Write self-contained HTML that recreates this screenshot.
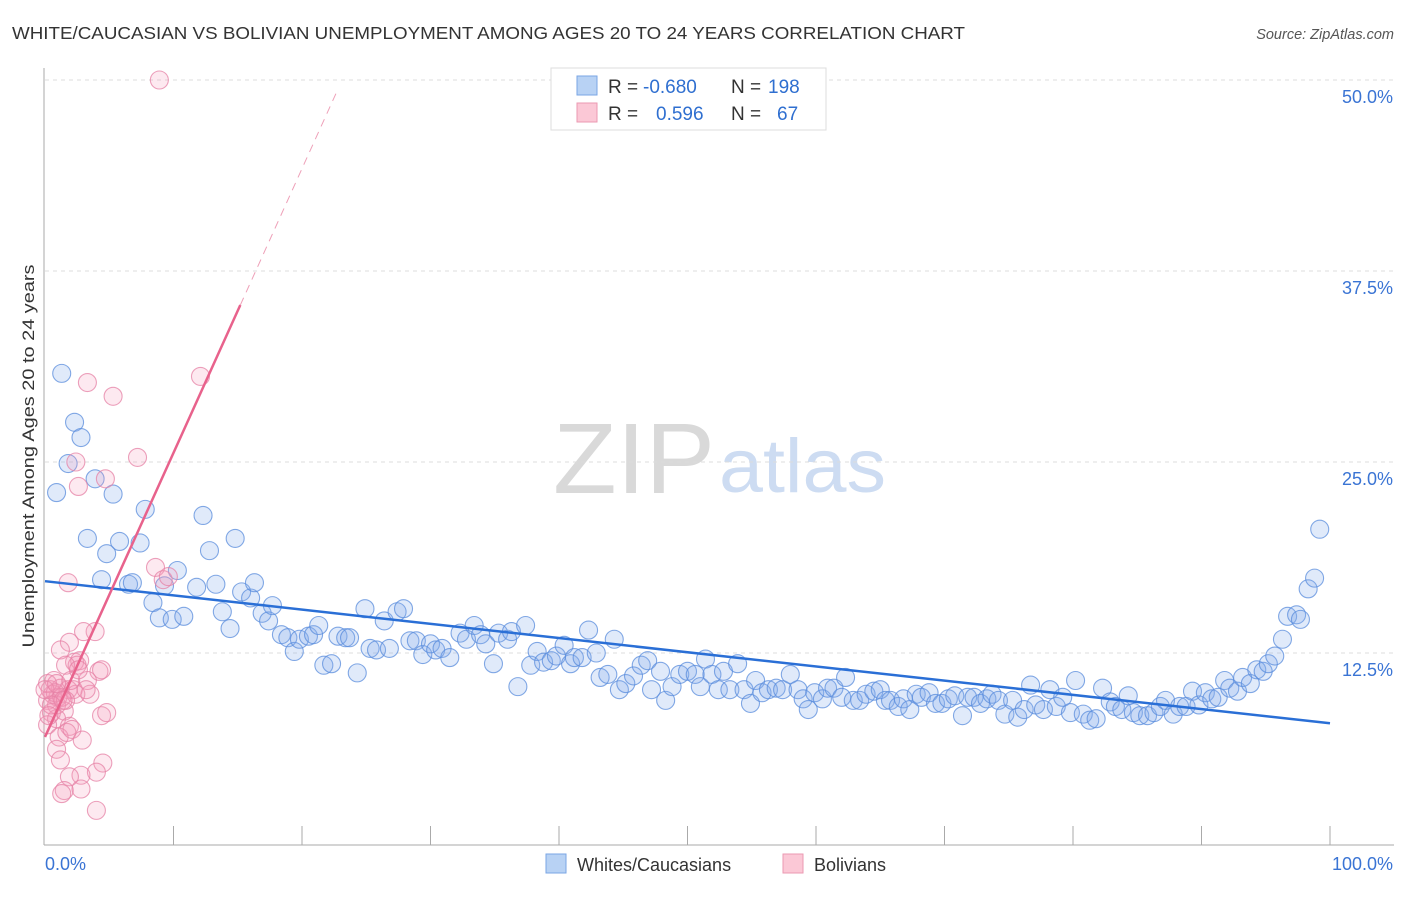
<!DOCTYPE html>
<html><head><meta charset="utf-8"><style>
body{margin:0;background:#fff;font-family:"Liberation Sans",sans-serif;}
svg text{font-family:"Liberation Sans",sans-serif;}
</style></head><body>
<svg id="chart" width="1406" height="892" xmlns="http://www.w3.org/2000/svg">
<text x="12" y="39" font-size="17.5" fill="#333" textLength="953" lengthAdjust="spacingAndGlyphs">WHITE/CAUCASIAN VS BOLIVIAN UNEMPLOYMENT AMONG AGES 20 TO 24 YEARS CORRELATION CHART</text>
<text x="1394" y="39" font-size="14.5" fill="#555" font-style="italic" text-anchor="end">Source: ZipAtlas.com</text>
<g>
<text x="553" y="493" font-size="100" fill="#d9d9d9" font-family="Liberation Serif, serif" textLength="162" lengthAdjust="spacingAndGlyphs">ZIP</text>
<text x="719" y="492" font-size="76" fill="#cddcf2" textLength="167" lengthAdjust="spacingAndGlyphs">atlas</text>
</g>
<g id="grid"></g>
<g id="axes"></g>
<g id="pts"></g>
<g id="trend"></g>
<text x="34" y="456" font-size="17" fill="#333" text-anchor="middle" textLength="383" lengthAdjust="spacingAndGlyphs" transform="rotate(-90 34 456)">Unemployment Among Ages 20 to 24 years</text>
<g>
<rect x="551" y="68" width="275" height="62" fill="#fff" stroke="#ddd"/>
<rect x="577" y="76" width="20" height="19" fill="#b8d2f4" stroke="#7aa6e4"/>
<rect x="577" y="103" width="20" height="19" fill="#fbc8d6" stroke="#eb99b2"/>
<text x="608" y="93" font-size="19" fill="#333">R =</text><text x="643" y="93" font-size="19" fill="#2f6fd0">-0.680</text>
<text x="731" y="93" font-size="19" fill="#333">N =</text><text x="768" y="93" font-size="19" fill="#2f6fd0">198</text>
<text x="608" y="120" font-size="19" fill="#333">R =</text><text x="656" y="120" font-size="19" fill="#2f6fd0">0.596</text>
<text x="731" y="120" font-size="19" fill="#333">N =</text><text x="777" y="120" font-size="19" fill="#2f6fd0">67</text>
</g>
<g>
<rect x="546" y="854" width="20" height="19" fill="#b8d2f4" stroke="#7aa6e4"/>
<text x="577" y="871" font-size="18" fill="#333">Whites/Caucasians</text>
<rect x="783" y="854" width="20" height="19" fill="#fbc8d6" stroke="#eb99b2"/>
<text x="814" y="871" font-size="18" fill="#333">Bolivians</text>
</g>
</svg>
<script>
const yTicks=[12.5,25,37.5,50];
const yTickLabels=["12.5%","25.0%","37.5%","50.0%"];
const xTicks=[0,10,20,30,40,50,60,70,80,90,100];
const blueX=[1.3,2.3,2.8,1.8,0.9,3.9,5.3,3.3,4.8,5.8,7.4,7.8,4.4,6.5,6.8,8.4,8.9,9.3,9.9,10.3,10.8,11.8,12.3,12.8,13.3,13.8,14.4,14.8,15.3,16.0,16.3,16.9,17.4,17.7,18.4,18.9,19.4,19.8,20.5,20.9,21.3,21.7,22.3,22.8,23.4,23.7,24.3,24.9,25.3,25.8,26.4,26.8,27.4,27.9,28.4,28.9,29.4,30.0,30.4,30.9,31.5,32.3,32.8,33.4,33.9,34.3,34.9,35.3,36.0,36.3,36.8,37.4,37.8,38.3,38.8,39.4,39.8,40.4,40.9,41.2,41.8,42.3,42.9,43.2,43.8,44.3,44.7,45.2,45.8,46.4,46.9,47.2,47.9,48.3,48.8,49.4,50.0,50.6,51.0,51.4,51.9,52.4,52.8,53.3,53.9,54.4,54.9,55.3,55.8,56.3,56.9,57.4,58.0,58.6,59.0,59.4,59.9,60.5,60.9,61.4,62.0,62.3,62.9,63.4,63.9,64.5,65.0,65.4,65.8,66.4,66.8,67.3,67.8,68.2,68.8,69.3,69.8,70.3,70.8,71.4,71.8,72.3,72.8,73.3,73.7,74.2,74.7,75.3,75.7,76.2,76.7,77.1,77.7,78.2,78.7,79.2,79.8,80.2,80.8,81.3,81.8,82.3,82.9,83.3,83.8,84.3,84.7,85.2,85.8,86.3,86.8,87.2,87.8,88.3,88.8,89.3,89.8,90.3,90.8,91.3,91.8,92.2,92.8,93.2,93.8,94.3,94.8,95.2,95.7,96.3,96.7,97.4,97.7,98.3,98.8,99.2];
const blueY=[30.8,27.6,26.6,24.9,23.0,23.9,22.9,20.0,19.0,19.8,19.7,21.9,17.3,17.0,17.1,15.8,14.8,16.9,14.7,17.9,14.9,16.8,21.5,19.2,17.0,15.2,14.1,20.0,16.5,16.1,17.1,15.1,14.6,15.6,13.7,13.5,12.6,13.4,13.6,13.7,14.3,11.7,11.8,13.6,13.5,13.5,11.2,15.4,12.8,12.7,14.6,12.8,15.2,15.4,13.3,13.3,12.4,13.1,12.7,12.8,12.2,13.8,13.4,14.3,13.7,13.1,11.8,13.8,13.4,13.9,10.3,14.3,11.7,12.6,11.9,12.0,12.3,13.0,11.8,12.2,12.2,14.0,12.5,10.9,11.1,13.4,10.1,10.5,11.0,11.7,12.0,10.1,11.3,9.4,10.3,11.1,11.3,11.1,10.3,12.1,11.1,10.1,11.3,10.1,11.8,10.1,9.2,10.7,9.9,10.1,10.2,10.1,11.1,10.1,9.5,8.8,9.9,9.5,10.2,10.2,9.6,10.9,9.4,9.4,9.8,10.0,10.1,9.4,9.4,9.0,9.5,8.8,9.8,9.6,9.9,9.2,9.2,9.5,9.7,8.4,9.6,9.6,9.2,9.5,9.8,9.4,8.5,9.4,8.3,8.8,10.4,9.1,8.8,10.1,9.0,9.6,8.6,10.7,8.5,8.1,8.2,10.2,9.3,9.0,8.8,9.7,8.6,8.4,8.4,8.6,9.0,9.4,8.5,9.0,9.0,10.0,9.1,9.9,9.5,9.6,10.7,10.2,10.0,10.9,10.5,11.4,11.3,11.8,12.3,13.4,14.9,15.0,14.7,16.7,17.4,20.6];
const pinkX=[8.9,3.3,5.3,12.1,7.2,2.4,2.6,4.7,1.8,8.6,9.2,9.6,3.9,3.0,1.9,1.2,2.3,2.7,2.5,1.6,4.2,4.4,3.3,0.7,1.2,1.8,2.2,0.6,1.0,0.2,3.5,2.4,0.9,1.5,0.5,0.9,0.2,4.4,4.8,1.9,1.1,1.7,2.1,2.9,0.9,1.2,4.5,4.0,2.8,1.9,1.5,1.3,2.8,4.0,0.4,0.2,0.8,1.3,1.6,2.0,2.6,3.2,1.4,0.5,0.0,0.3,0.9];
const pinkY=[50.0,30.2,29.3,30.6,25.3,25.0,23.4,23.9,17.1,18.1,17.3,17.5,13.9,13.9,13.2,12.7,11.9,12.0,11.7,11.7,11.3,11.4,10.7,10.7,10.2,10.1,10.1,9.8,9.6,9.4,9.8,9.8,9.1,8.7,8.6,8.2,7.8,8.4,8.6,7.7,7.0,7.3,7.5,6.8,6.2,5.5,5.3,4.7,4.5,4.4,3.5,3.3,3.6,2.2,10.1,10.5,9.9,9.6,9.4,10.7,11.4,10.1,9.4,9.1,10.1,8.4,10.5];
const blueTrend=[17.2,7.9]; // y at x=0 and x=100
const pinkTrend=[7.0,1.86]; // intercept, slope
const pinkSolidEnd=15.2, pinkDashEnd=22.8;

const NS="http://www.w3.org/2000/svg";
const X=v=>45+v*12.85;
const Y=v=>844-v*15.28;
function mk(tag,attrs,parent){const e=document.createElementNS(NS,tag);for(const k in attrs)e.setAttribute(k,attrs[k]);parent.appendChild(e);return e;}
const grid=document.getElementById('grid'),axes=document.getElementById('axes'),pts=document.getElementById('pts'),trend=document.getElementById('trend');
yTicks.forEach((t,i)=>{
  const l=mk('line',{x1:45,x2:1394,y1:Y(t),y2:Y(t),stroke:'#dcdcdc','stroke-dasharray':'4,4'},grid);
  
  
  const tx=mk('text',{x:1393,y:Y(t)+23,'font-size':18,fill:'#3a74d4','text-anchor':'end'},grid);
  tx.textContent=yTickLabels[i];
  
  
});
mk('line',{x1:44,x2:44,y1:68,y2:845,stroke:'#aaa'},axes);
mk('line',{x1:44,x2:1394,y1:845,y2:845,stroke:'#aaa'},axes);
xTicks.forEach(t=>{
  if(t===0)return;
  const l=mk('line',{x1:X(t),x2:X(t),y1:826,y2:845,stroke:'#aaa'},axes);
  
  
});
const xl0=mk('text',{x:45,y:870,'font-size':18,fill:'#3a74d4'},axes);xl0.textContent='0.0%';


const xl1=mk('text',{x:1393,y:870,'font-size':18,fill:'#3a74d4','text-anchor':'end'},axes);xl1.textContent='100.0%';


blueX.forEach((x,i)=>{
  const c=mk('circle',{cx:X(x),cy:Y(blueY[i]),r:9,fill:'rgba(130,172,235,0.25)',stroke:'rgba(90,140,220,0.75)','stroke-width':1.1},pts);
  
  
});
pinkX.forEach((x,i)=>{
  const c=mk('circle',{cx:X(x),cy:Y(pinkY[i]),r:9,fill:'rgba(245,155,185,0.22)',stroke:'rgba(230,130,165,0.75)','stroke-width':1.1},pts);
  
  
});
const bl=mk('line',{x1:X(0),y1:Y(blueTrend[0]),x2:X(100),y2:Y(blueTrend[1]),stroke:'#2a6fd6','stroke-width':2.5},trend);


const py=x=>pinkTrend[0]+pinkTrend[1]*x;
const pl=mk('line',{x1:X(0),y1:Y(py(0)),x2:X(pinkSolidEnd),y2:Y(py(pinkSolidEnd)),stroke:'#e8628c','stroke-width':2.5},trend);


const pd=mk('line',{x1:X(pinkSolidEnd),y1:Y(py(pinkSolidEnd)),x2:X(pinkDashEnd),y2:Y(py(pinkDashEnd)),stroke:'#eea0b8','stroke-width':1,'stroke-dasharray':'8,6'},trend);


</script>
</body></html>
